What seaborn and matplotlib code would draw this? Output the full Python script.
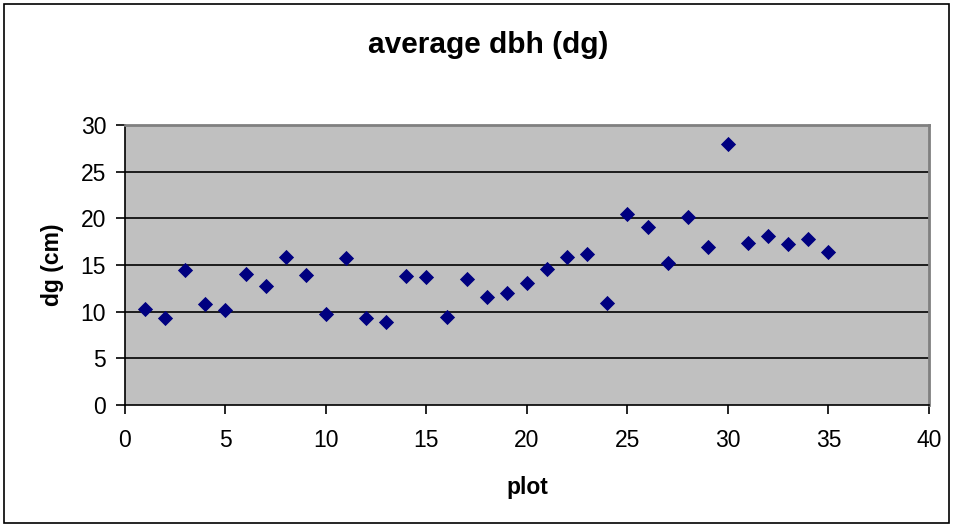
import matplotlib
matplotlib.use("Agg")
import matplotlib.pyplot as plt
import seaborn as sns
import pandas as pd
from matplotlib.patches import Rectangle

plots = list(range(1, 36))
dg_cm = [10.3, 9.3, 14.5, 10.8, 10.2, 14.0, 12.8, 15.9, 13.9, 9.8,
         15.7, 9.3, 8.9, 13.8, 13.7, 9.4, 13.5, 11.6, 12.05, 13.1,
         14.6, 15.9, 16.15, 10.9, 20.5, 19.1, 15.2, 20.1, 16.9, 28.0,
         17.4, 18.15, 17.3, 17.75, 16.4]
x_ticks = [0, 5, 10, 15, 20, 25, 30, 35, 40]
y_ticks = [0, 5, 10, 15, 20, 25, 30]

sns.set_theme(style="white")
plt.rcParams['font.family'] = ['Liberation Sans', 'DejaVu Sans']
plt.rcParams['text.color'] = 'black'
plt.rcParams['axes.labelcolor'] = 'black'
plt.rcParams['xtick.color'] = 'black'
plt.rcParams['ytick.color'] = 'black'

df = pd.DataFrame({"plot": plots, "dg": dg_cm})

fig = plt.figure(figsize=(9.54, 5.27), dpi=100)
ax = fig.add_axes([125/954, 1-405/527, (929-125)/954, (405-125)/527])
ax.set_facecolor("#C0C0C0")

for v in y_ticks[1:-1]:
    ax.axhline(v, color="black", lw=1.2, zorder=1)

sns.scatterplot(data=df, x="plot", y="dg", marker="D", s=60, color="#000080",
                edgecolor="#000080", linewidth=0, ax=ax, zorder=3)

ax.set_xlim(0, 40)
ax.set_ylim(0, 30)
ax.set_xticks(x_ticks)
ax.set_yticks(y_ticks)
ax.tick_params(axis="both", which="major", direction="out", length=6.5, width=1.2,
               color="black", labelcolor="black", labelsize=16.5, bottom=True, left=True)
ax.tick_params(axis="x", pad=11)
ax.tick_params(axis="y", pad=7)
for s in ["top", "right"]:
    ax.spines[s].set_color("#808080")
    ax.spines[s].set_linewidth(2)
for s in ["left", "bottom"]:
    ax.spines[s].set_color("black")
    ax.spines[s].set_linewidth(1.2)

ax.set_xlabel("plot", fontsize=16.5, fontweight="bold", labelpad=17, color="black")
ax.set_ylabel("dg (cm)", fontsize=16.5, fontweight="bold", labelpad=12, color="black")
fig.text(488/954, 1-45/527, "average dbh (dg)", ha="center", va="center",
         fontsize=21.5, fontweight="bold", color="black")

fig.patches.append(Rectangle((4/954, 4/527), 945/954, 519/527, transform=fig.transFigure,
                             fill=False, edgecolor="black", lw=1.2))

fig.savefig("out.png", dpi=100, facecolor="white")
